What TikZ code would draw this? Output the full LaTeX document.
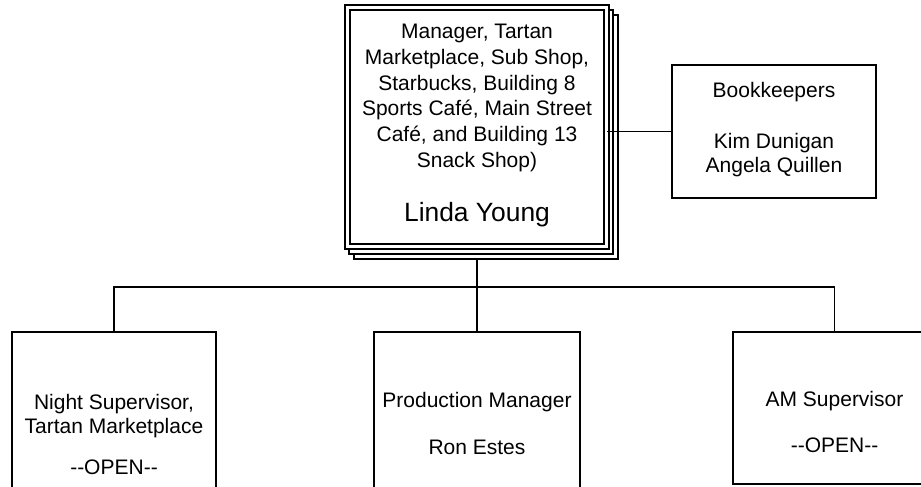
\documentclass[tikz,border=0pt]{standalone}
\usepackage{fontspec}
\setmainfont[Ligatures=NoCommon]{Liberation Sans}
\begin{document}
\begin{tikzpicture}[x=1pt,y=-1pt,
  ln/.style={line width=1.9pt},
  box/.style={draw,ln,fill=white,inner sep=0pt,outer sep=0pt},
  txt/.style={inner sep=0pt,align=center,font=\fontsize{21}{24.5}\selectfont},
  big/.style={inner sep=0pt,align=center,font=\fontsize{26.4}{30}\selectfont}]
\useasboundingbox (0,0) rectangle (921,487);
\clip (0,0) rectangle (921,487);
% stacked manager box
\node[box,minimum width=264pt,minimum height=244pt] (back2) at (486,137) {};
\node[box,minimum width=264pt,minimum height=244pt] (back1) at (481,132) {};
\node[box,double,double distance=3.2pt,minimum width=259pt,minimum height=239pt] (mgr) at (477,127.25) {};
\node[txt,font=\fontsize{21}{25.8}\selectfont] (mgrtitle) at (477,98) {Manager, Tartan\\Marketplace, Sub Shop,\\Starbucks, Building 8\\Sports Café, Main Street\\Café, and Building 13\\Snack Shop)};
\node[big] (mgrname) at (477,215) {Linda Young};
% bookkeepers
\node[box,minimum width=204pt,minimum height=133pt] (bk) at (774,131.5) {};
\node[txt] (bktitle) at (774,92) {Bookkeepers};
\node[txt] (bknames) at (774,155) {Kim Dunigan\\Angela Quillen};
% bottom boxes
\node[box,minimum width=204pt,minimum height=188pt] (night) at (114,426) {};
\node[box,minimum width=206pt,minimum height=188pt] (prod) at (477,426) {};
\node[box,minimum width=203pt,minimum height=152pt] (am) at (834.5,408) {};
\node[txt] (nighttxt) at (114,416) {Night Supervisor,\\Tartan Marketplace};
\node[txt] (nightopen) at (114,467) {{-}{-}OPEN{-}{-}};
\node[txt] (prodtitle) at (477,402) {Production Manager};
\node[txt] (prodname) at (477,447) {Ron Estes};
\node[txt] (amtitle) at (834.5,401) {AM Supervisor};
\node[txt] (amopen) at (834.5,445) {{-}{-}OPEN{-}{-}};
% connectors
\coordinate (bar) at (477,287);
\draw[ln] (mgr.south |- back2.south) -- (bar);
\draw[ln] (night.north) -- (night.north |- bar) -- (am.north |- bar) -- (am.north);
\draw[ln] (prod.north) -- (prod.north |- bar);
\draw[ln] (mgr.east |- bk.west) -- (bk.west);
\end{tikzpicture}
\end{document}
